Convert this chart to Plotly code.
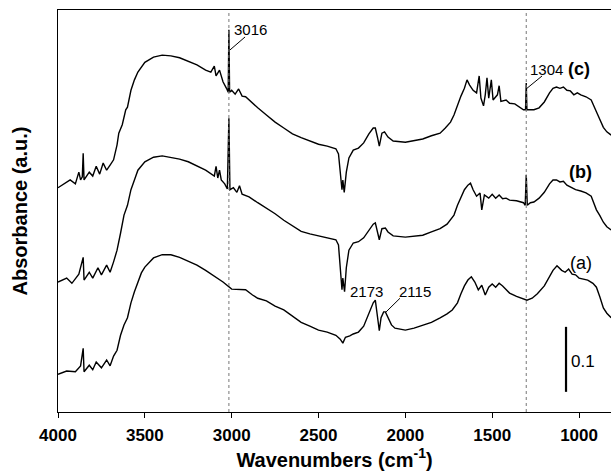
import plotly.graph_objects as go

# ---------------- data ----------------
# spectrum (a)
wn_a = [4000, 3950, 3900, 3870, 3855, 3850, 3820, 3800, 3780, 3750, 3720, 3700, 3680,
        3660, 3640, 3620, 3600, 3580, 3560, 3540, 3520, 3500, 3450, 3400, 3350, 3300,
        3250, 3200, 3150, 3100, 3050, 3000, 2960, 2920, 2880, 2850, 2800, 2750, 2700,
        2650, 2600, 2550, 2500, 2450, 2400, 2375, 2360, 2345, 2320, 2300, 2270, 2240,
        2210, 2185, 2173, 2160, 2150, 2140, 2125, 2115, 2100, 2080, 2060, 2000, 1950,
        1900, 1850, 1800, 1760, 1730, 1700, 1680, 1660, 1640, 1620, 1600, 1580, 1560,
        1540, 1520, 1500, 1480, 1460, 1440, 1420, 1400, 1360, 1320, 1300, 1270, 1240,
        1200, 1170, 1150, 1127, 1100, 1080, 1060, 1040, 1020, 1000, 980, 950, 920, 900,
        880, 860, 840, 815]
abs_a = [0.058, 0.063, 0.062, 0.071, 0.098, 0.062, 0.072, 0.065, 0.077, 0.068, 0.080, 0.071, 0.086,
         0.095, 0.118, 0.134, 0.145, 0.168, 0.185, 0.200, 0.214, 0.223, 0.237, 0.242, 0.242, 0.238,
         0.232, 0.226, 0.218, 0.209, 0.200, 0.189, 0.188, 0.188, 0.180, 0.175, 0.171, 0.163, 0.157,
         0.148, 0.138, 0.132, 0.126, 0.123, 0.118, 0.112, 0.106, 0.115, 0.117, 0.120, 0.123, 0.132,
         0.151, 0.168, 0.172, 0.149, 0.125, 0.145, 0.154, 0.154, 0.145, 0.134, 0.129, 0.126, 0.129,
         0.134, 0.138, 0.145, 0.151, 0.157, 0.168, 0.182, 0.194, 0.203, 0.208, 0.200, 0.188, 0.195,
         0.180, 0.192, 0.197, 0.192, 0.198, 0.194, 0.188, 0.183, 0.178, 0.174, 0.172, 0.175, 0.182,
         0.194, 0.208, 0.218, 0.225, 0.218, 0.215, 0.220, 0.212, 0.211, 0.206, 0.205, 0.203, 0.198, 0.192,
         0.177, 0.160, 0.152, 0.145]

# spectrum (b)
wn_b = [4000, 3950, 3920, 3880, 3855, 3850, 3820, 3800, 3770, 3750, 3720, 3700, 3680,
        3660, 3640, 3620, 3600, 3580, 3560, 3540, 3500, 3450, 3400, 3350, 3300, 3250,
        3200, 3150, 3100, 3090, 3080, 3070, 3060, 3040, 3025, 3016, 3010, 2990, 2970,
        2955, 2940, 2900, 2850, 2800, 2750, 2700, 2650, 2600, 2550, 2500, 2450, 2400,
        2385, 2375, 2365, 2360, 2350, 2340, 2325, 2300, 2270, 2240, 2210, 2185, 2173,
        2160, 2150, 2135, 2115, 2100, 2070, 2000, 1950, 1900, 1850, 1800, 1760, 1720,
        1700, 1680, 1660, 1640, 1625, 1610, 1590, 1570, 1560, 1545, 1520, 1500, 1480,
        1460, 1440, 1420, 1400, 1360, 1320, 1310, 1304, 1298, 1280, 1260, 1230, 1200,
        1170, 1150, 1130, 1110, 1090, 1070, 1050, 1020, 990, 960, 930, 900, 880, 860,
        840, 815]
abs_b = [0.200, 0.206, 0.198, 0.212, 0.238, 0.203, 0.215, 0.206, 0.222, 0.211, 0.226, 0.215, 0.231,
         0.249, 0.275, 0.303, 0.318, 0.342, 0.357, 0.372, 0.385, 0.392, 0.394, 0.392, 0.389, 0.385,
         0.378, 0.372, 0.363, 0.378, 0.360, 0.372, 0.357, 0.351, 0.343, 0.452, 0.342, 0.345, 0.338,
         0.348, 0.335, 0.331, 0.322, 0.314, 0.305, 0.295, 0.286, 0.278, 0.274, 0.271, 0.268, 0.265,
         0.257, 0.226, 0.188, 0.206, 0.185, 0.222, 0.249, 0.260, 0.262, 0.268, 0.280, 0.289, 0.291,
         0.277, 0.265, 0.282, 0.283, 0.277, 0.271, 0.269, 0.271, 0.272, 0.277, 0.282, 0.289, 0.303,
         0.318, 0.331, 0.342, 0.349, 0.352, 0.342, 0.332, 0.337, 0.311, 0.334, 0.329, 0.335, 0.329,
         0.334, 0.328, 0.329, 0.326, 0.325, 0.322, 0.318, 0.365, 0.318, 0.322, 0.323, 0.329, 0.338,
         0.351, 0.357, 0.357, 0.354, 0.355, 0.349, 0.346, 0.342, 0.340, 0.337, 0.332, 0.311, 0.302, 0.292,
         0.285, 0.280]

# spectrum (c)
wn_c = [4000, 3960, 3930, 3900, 3880, 3870, 3860, 3855, 3850, 3820, 3800, 3780, 3760,
        3740, 3720, 3700, 3680, 3660, 3650, 3630, 3610, 3600, 3580, 3560, 3540, 3500,
        3450, 3400, 3350, 3300, 3250, 3200, 3150, 3120, 3100, 3090, 3070, 3050, 3030,
        3020, 3016, 3012, 3000, 2980, 2960, 2940, 2920, 2900, 2850, 2800, 2750, 2700,
        2650, 2600, 2550, 2500, 2450, 2400, 2385, 2375, 2365, 2360, 2352, 2340, 2325,
        2300, 2270, 2240, 2210, 2185, 2173, 2160, 2150, 2135, 2120, 2100, 2070, 2000,
        1950, 1900, 1850, 1800, 1770, 1740, 1720, 1700, 1680, 1660, 1645, 1630, 1610,
        1590, 1575, 1565, 1550, 1540, 1530, 1520, 1505, 1495, 1470, 1460, 1450, 1420,
        1400, 1370, 1340, 1320, 1308, 1304, 1300, 1280, 1260, 1230, 1200, 1170, 1150,
        1130, 1110, 1090, 1070, 1050, 1030, 1010, 990, 960, 930, 900, 880, 860, 840, 815]
abs_c = [0.345, 0.352, 0.357, 0.351, 0.369, 0.357, 0.362, 0.398, 0.357, 0.369, 0.363, 0.378, 0.366,
         0.383, 0.372, 0.380, 0.388, 0.411, 0.429, 0.442, 0.465, 0.469, 0.495, 0.511, 0.523, 0.538,
         0.546, 0.549, 0.548, 0.545, 0.540, 0.534, 0.526, 0.523, 0.532, 0.517, 0.526, 0.508, 0.498,
         0.492, 0.588, 0.492, 0.495, 0.489, 0.497, 0.486, 0.485, 0.480, 0.468, 0.457, 0.446, 0.437,
         0.428, 0.422, 0.417, 0.412, 0.409, 0.405, 0.397, 0.372, 0.342, 0.357, 0.338, 0.369, 0.391,
         0.403, 0.406, 0.414, 0.428, 0.437, 0.437, 0.422, 0.409, 0.429, 0.431, 0.423, 0.417, 0.415,
         0.417, 0.420, 0.425, 0.429, 0.437, 0.446, 0.457, 0.472, 0.486, 0.498, 0.511, 0.503, 0.495,
         0.491, 0.517, 0.483, 0.471, 0.488, 0.514, 0.483, 0.511, 0.480, 0.488, 0.502, 0.478, 0.480,
         0.475, 0.474, 0.469, 0.465, 0.465, 0.506, 0.465, 0.465, 0.465, 0.468, 0.477, 0.491, 0.498,
         0.500, 0.498, 0.500, 0.495, 0.494, 0.488, 0.491, 0.488, 0.485, 0.480, 0.462, 0.449, 0.438, 0.431, 0.426]

marked_wn = [3016, 1304]
x_ticks = [4000, 3500, 3000, 2500, 2000, 1500, 1000]
scale_bar = 0.1

FONT = "Arial, 'Liberation Sans', sans-serif"

fig = go.Figure()
for wn, ab, name in [(wn_a, abs_a, "(a)"), (wn_b, abs_b, "(b)"), (wn_c, abs_c, "(c)")]:
    fig.add_trace(go.Scatter(x=wn, y=ab, mode="lines", name=name,
                             line=dict(color="black", width=1.4), showlegend=False))

# dotted marker lines
for w in marked_wn:
    fig.add_shape(type="line", x0=w, x1=w, xref="x", yref="paper", y0=0, y1=1,
                  line=dict(color="#777777", width=1, dash="dot"))

# leader lines
leaders = [((3010, 0.557), (2923, 0.577)),
           ((1300, 0.498), (1213, 0.517)),
           ((2111, 0.154), (2031, 0.175))]
for (x0, y0), (x1, y1) in leaders:
    fig.add_shape(type="line", x0=x0, y0=y0, x1=x1, y1=y1, xref="x", yref="y",
                  line=dict(color="black", width=1))

# scale bar
fig.add_shape(type="line", x0=1075, x1=1075, y0=0.031, y1=0.031 + scale_bar, xref="x", yref="y",
              line=dict(color="black", width=2.2))

ann = [
    dict(x=2889, y=0.588, text="3016", size=15),
    dict(x=1190, y=0.527, text="1304", size=15),
    dict(x=1000, y=0.527, text="<b>(c)</b>", size=18),
    dict(x=994, y=0.369, text="<b>(b)</b>", size=18),
    dict(x=988, y=0.229, text="(a)", size=18),
    dict(x=2221, y=0.185, text="2173", size=15),
    dict(x=1944, y=0.185, text="2115", size=15),
    dict(x=977, y=0.077, text="0.1", size=17),
]
for a in ann:
    fig.add_annotation(x=a["x"], y=a["y"], xref="x", yref="y", text=a["text"], showarrow=False,
                       xanchor="center", yanchor="middle",
                       font=dict(family=FONT, size=a["size"], color="black"))

fig.update_layout(
    width=611, height=476,
    margin=dict(l=58, r=0, t=10, b=64),
    paper_bgcolor="white", plot_bgcolor="white",
    font=dict(family=FONT, color="black"),
    xaxis=dict(range=[4000, 816], tickvals=x_ticks, ticktext=[f"<b>{t}</b>" for t in x_ticks],
               ticks="outside", ticklen=5, tickwidth=1, tickcolor="black",
               ticklabelstandoff=3,
               showline=True, linecolor="black", linewidth=1, mirror=True,
               showgrid=False, zeroline=False,
               tickfont=dict(family=FONT, size=17, color="black"),
               title=dict(text="<b>Wavenumbers (cm<sup>-1</sup>)</b>",
                          font=dict(family=FONT, size=20, color="black"), standoff=6)),
    yaxis=dict(range=[0, 0.6185], showticklabels=False, ticks="",
               showline=True, linecolor="black", linewidth=1, mirror=False,
               showgrid=False, zeroline=False,
               title=dict(text="<b>Absorbance (a.u.)</b>",
                          font=dict(family=FONT, size=20, color="black"), standoff=24)),
)

fig.write_html("out.html")
